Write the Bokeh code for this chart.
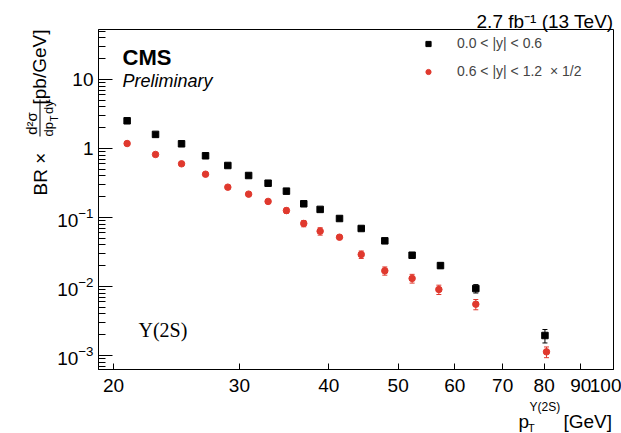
import math
from bokeh.plotting import figure
from bokeh.core.properties import value
from bokeh.models import (Range1d, FixedTicker, BasicTickFormatter, LogTickFormatter,
                          Whisker, TeeHead, ColumnDataSource, Legend, LegendItem)
from bokeh.embed import file_html
from bokeh.resources import INLINE

# ---- data ----
pt_black = [20.9, 22.9, 24.9, 26.9, 28.9, 30.9, 32.9, 34.9, 36.9, 38.9, 41.4, 44.4, 47.9, 52.3, 57.3, 64.2, 80.2]
xs_black = [2.52, 1.60, 1.17, 0.784, 0.567, 0.406, 0.314, 0.241, 0.158, 0.131, 0.0967, 0.0693, 0.0459,
            0.0284, 0.0201, 0.00935, 0.00195]
err_black = [0.03, 0.02, 0.015, 0.01, 0.007, 0.005, 0.004, 0.003, 0.003, 0.0089, 0.0066, 0.0047, 0.0031,
             0.0025, 0.0017, 0.0013, 0.00043]

pt_red = [20.9, 22.9, 24.9, 26.9, 28.9, 30.9, 32.9, 34.9, 36.9, 38.9, 41.4, 44.4, 47.9, 52.3, 57.0, 64.2, 80.6]
xs_red = [1.18, 0.819, 0.600, 0.424, 0.275, 0.218, 0.171, 0.126, 0.0819, 0.0633, 0.0518, 0.0291, 0.0169,
          0.0131, 0.00905, 0.00554, 0.00113]
err_red = [0.012, 0.008, 0.006, 0.004, 0.003, 0.002, 0.002, 0.011, 0.0086, 0.0078, 0.0035, 0.0036, 0.0023,
           0.0019, 0.0014, 0.00094, 0.0002]

x_ticks = [20, 30, 40, 50, 60, 70, 80, 90, 100]
legend_labels = ["0.0 < |y| < 0.6", "0.6 < |y| < 1.2  \u00d7 1/2"]

RED = "#e0392e"
FONT = "Liberation Sans"
W, H = 621, 433

p = figure(width=W, height=H, x_axis_type="log", y_axis_type="log",
           x_range=Range1d(19.06, 100.0), y_range=Range1d(6.27e-4, 53.0),
           output_backend="svg", toolbar_location=None,
           min_border_left=98, min_border_right=8, min_border_top=29, min_border_bottom=64)
p.xgrid.visible = False
p.ygrid.visible = False
p.outline_line_color = "black"
p.outline_line_width = 1
p.background_fill_color = "white"
p.border_fill_color = "white"

p.xaxis.ticker = FixedTicker(ticks=x_ticks, minor_ticks=[])
p.xaxis.formatter = BasicTickFormatter()
p.xaxis.major_tick_in = 6
p.xaxis.major_tick_out = 0
p.xaxis.minor_tick_in = 0
p.xaxis.minor_tick_out = 0
p.xaxis.major_label_standoff = 9
p.yaxis.formatter = LogTickFormatter()
p.yaxis.major_label_overrides = {10: "10", 1: "1"}
p.yaxis.major_tick_in = 14
p.yaxis.major_tick_out = 0
p.yaxis.minor_tick_in = 7
p.yaxis.minor_tick_out = 0
p.yaxis.major_label_standoff = 5
for ax in (p.xaxis, p.yaxis):
    ax.axis_line_color = "black"
    ax.major_tick_line_color = "black"
    ax.minor_tick_line_color = "black"
    ax.major_label_text_font = FONT
    ax.major_label_text_font_size = "19px"
    ax.major_label_text_color = "black"

src_b = ColumnDataSource(dict(x=pt_black, y=xs_black,
                              lo=[v - e for v, e in zip(xs_black, err_black)],
                              hi=[v + e for v, e in zip(xs_black, err_black)]))
src_r = ColumnDataSource(dict(x=pt_red, y=xs_red,
                              lo=[v - e for v, e in zip(xs_red, err_red)],
                              hi=[v + e for v, e in zip(xs_red, err_red)]))

for src, col in ((src_b, "black"), (src_r, RED)):
    p.add_layout(Whisker(source=src, base="x", lower="lo", upper="hi", dimension="height",
                         line_color=col, line_width=1,
                         lower_head=TeeHead(size=5, line_color=col, line_width=1),
                         upper_head=TeeHead(size=5, line_color=col, line_width=1)))

r_b = p.scatter(x="x", y="y", source=src_b, marker="square", size=6.5, color="black")
r_r = p.scatter(x="x", y="y", source=src_r, marker="circle", size=6.5, color=RED)

legend = Legend(items=[LegendItem(label=legend_labels[0], renderers=[r_b]),
                       LegendItem(label=legend_labels[1], renderers=[r_r])],
                location=(322, 288), padding=0, margin=0, spacing=8,
                glyph_width=16, glyph_height=13, label_height=20, label_standoff=21,
                label_text_font=FONT, label_text_font_size="14px",
                border_line_color=None, background_fill_alpha=0)
p.add_layout(legend)

# ---- transparent overlay figure (separate root) for the texts outside the plot frame ----
ov = figure(width=W, height=H, x_range=Range1d(0, W), y_range=Range1d(0, H),
            output_backend="svg", toolbar_location=None,
            x_axis_location=None, y_axis_location=None,
            min_border_left=0, min_border_right=0, min_border_top=0, min_border_bottom=0,
            background_fill_color=None, border_fill_color=None, outline_line_color=None,
            margin=(-H, 0, 0, 0))
ov.xgrid.visible = False
ov.ygrid.visible = False


def txt(xw, yw, text, size, align="left", baseline="middle", angle=0.0, style="normal", font=FONT):
    # positions given in window pixels (from top-left)
    ov.text(x=[xw], y=[H - yw], text=[text], text_font=value(font), text_font_size=value(size),
            text_font_style=style, text_align=align, text_baseline=baseline, angle=angle,
            text_color="black")


A = math.pi / 2
# header
txt(613, 20.5, "2.7 fb\u207b\u00b9 (13 TeV)", "19px", align="right")
txt(122, 57, "CMS", "22px", style="bold")
txt(122, 80, "Preliminary", "18px", style="italic")
txt(138, 329, "\u03a5(2S)", "20px", font="Liberation Serif")

# y-axis title (rotated)
txt(40, 195, "BR \u00d7", "19px", angle=A)
txt(31, 123, "d\u00b2\u03c3", "15px", align="center", angle=A)
ov.segment(x0=[39.5], y0=[H - 136], x1=[39.5], y1=[H - 99], line_color="black", line_width=1)
txt(48, 136, "dp", "13px", angle=A)
txt(54, 121, "T", "10px", angle=A)
txt(48, 113.5, "dy", "13px", angle=A)
txt(39, 104, "[pb/GeV]", "19px", angle=A)

# x-axis title
txt(518, 421, "p", "19px", baseline="alphabetic")
txt(527.5, 427, "T", "11px", baseline="alphabetic")
txt(529, 406, "\u03a5(2S)", "12px", baseline="alphabetic")
txt(563, 421, "[GeV]", "19px", baseline="alphabetic")

open("out.html", "w").write(file_html([p, ov], INLINE))
